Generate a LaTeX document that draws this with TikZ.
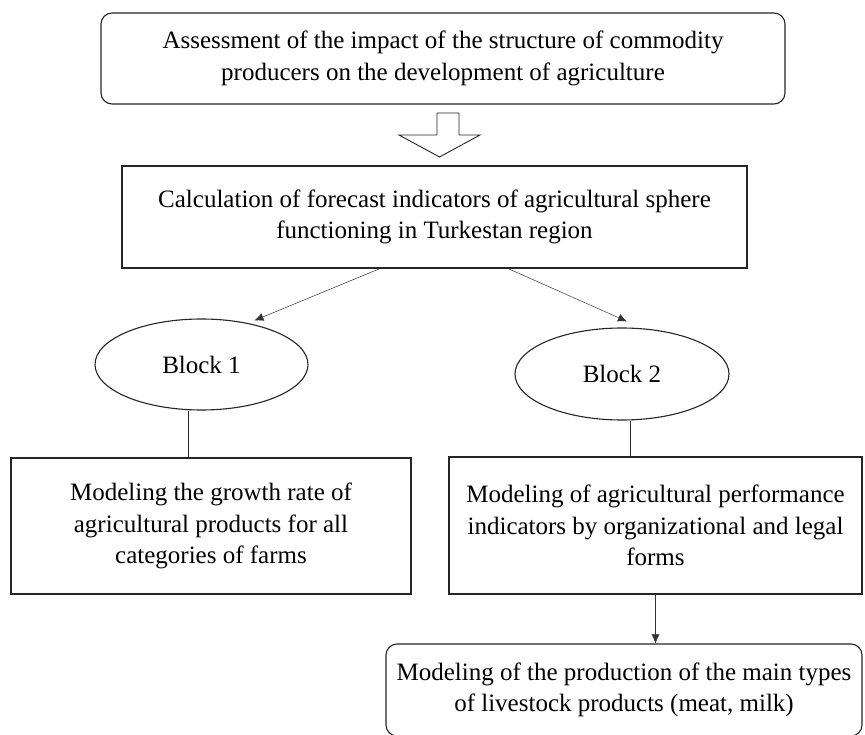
\documentclass[tikz,border=0pt]{standalone}
\usepackage{fontspec}
\setmainfont{Liberation Serif}
\usetikzlibrary{shapes.geometric,arrows.meta,calc}
\tikzset{
  box/.style={draw=black!85, line width=1.1pt, align=center, inner sep=0pt,
    font=\fontsize{25}{31.5}\selectfont},
  rbox/.style={box, rounded corners=11pt},
  oval/.style={draw=black!85, line width=1.1pt, ellipse, inner sep=0pt,
    font=\fontsize{25}{31.5}\selectfont},
  arr/.style={-{Latex[length=9pt,width=8pt]}, line width=0.5pt, draw=black!80},
  link/.style={line width=0.8pt, draw=black!85},
  hollow/.style={draw=black!85, line width=0.9pt, fill=white}
}
\begin{document}
\begin{tikzpicture}[x=1pt,y=-1pt]
\useasboundingbox (0,0) rectangle (865,735);
\fill[white] (0,0) rectangle (865,735);
\clip (0,0) rectangle (865,735);

\node[rbox, minimum width=684pt, minimum height=91pt] (top) at (443,58.5)
  {Assessment of the impact of the structure of commodity\\producers on the development of agriculture};
\node[box, minimum width=625pt, minimum height=102pt] (calc) at (434.5,217)
  {Calculation of forecast indicators of agricultural sphere\\functioning in Turkestan region};
\node[oval, minimum width=213pt, minimum height=91pt] (b1) at (201.5,364.5) {Block 1};
\node[oval, minimum width=214pt, minimum height=92pt] (b2) at (622,374) {Block 2};
\node[box, minimum width=400pt, minimum height=136pt] (m1) at (211,526)
  {Modeling the growth rate of\\agricultural products for all\\categories of farms};
\node[box, minimum width=413pt, minimum height=137pt] (m2) at (655.5,525.5)
  {Modeling of agricultural performance\\indicators by organizational and legal\\forms};
\node[rbox, minimum width=476pt, minimum height=92pt] (m3) at (624,690)
  {Modeling of the production of the main types\\of livestock products (meat, milk)};

% hollow block arrow between top and calc
\draw[hollow] (437,113) -- (459,113) -- (459,135) -- (480,135) -- (439.5,157)
  -- (399,135) -- (437,135) -- cycle;

\draw[arr] ([xshift=-54.5pt]calc.south) -- ([xshift=53pt,yshift=-2pt]b1.north);
\draw[arr] ([xshift=73.5pt]calc.south) -- ([xshift=5pt,yshift=6pt]b2.north);
\draw[link] ([xshift=-13pt]b1.south) -- ([xshift=-13pt]b1.south |- m1.north);
\draw[link] ([xshift=8pt]b2.south) -- ([xshift=8pt]b2.south |- m2.north);
\draw[arr] (m2.south) -- (m2.south |- m3.north);
\end{tikzpicture}
\end{document}
